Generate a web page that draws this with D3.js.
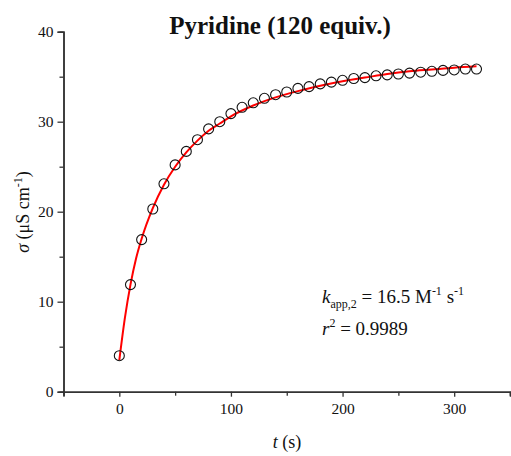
<!DOCTYPE html>
<html><head><meta charset="utf-8">
<script src="https://cdn.jsdelivr.net/npm/d3@7"></script>
<style>body{margin:0;background:#fff}svg{display:block}text{font-family:"Liberation Serif","DejaVu Serif",serif;fill:#111}</style>
</head><body><svg id="c" width="511" height="456"></svg>
<script>
const times = [0,10,20,30,40,50,60,70,80,90,100,110,120,130,140,150,160,170,180,190,200,210,220,230,240,250,260,270,280,290,300,310,320];
const sigma = [4.0,11.9,16.9,20.3,23.1,25.2,26.7,28.0,29.2,30.0,30.9,31.6,32.1,32.6,33.0,33.3,33.7,33.9,34.2,34.4,34.6,34.8,34.9,35.1,35.2,35.3,35.4,35.5,35.6,35.7,35.75,35.85,35.85];
const fitT = [0,5,10,15,20,30,40,50,60,70,80,90,100,120,140,160,180,200,220,240,260,280,300,320];
const fitY = [3.5,8.2,11.9,14.8,17.0,20.4,23.0,25.0,26.6,27.9,29.0,29.8,30.6,31.8,32.7,33.4,34.0,34.5,34.9,35.3,35.6,35.8,36.0,36.15];
const xMajor = [0,100,200,300];
const xMinor = [-50,50,150,250,350];
const yMajor = [0,10,20,30,40];
const yMinor = [5,15,25,35];

const svg = d3.select("#c");
const x = d3.scaleLinear().domain([-50,350]).range([63.5,510]);
const y = d3.scaleLinear().domain([0,40]).range([391.7,31.7]);
const axCol = "#333";

// axes
const gx = svg.append("g").attr("transform",`translate(0,${y(0)})`);
gx.append("g").call(d3.axisBottom(x).tickValues(xMinor).tickSize(4).tickFormat(""));
gx.append("g").call(d3.axisBottom(x).tickValues(xMajor).tickSize(5).tickPadding(6).tickFormat(d3.format("d")));
const gy = svg.append("g").attr("transform",`translate(${x(-50)},0)`);
gy.append("g").call(d3.axisLeft(y).tickValues(yMinor).tickSize(4).tickFormat(""));
gy.append("g").call(d3.axisLeft(y).tickValues(yMajor).tickSize(6).tickPadding(4).tickFormat(d3.format("d")));
svg.selectAll(".domain").attr("stroke",axCol).attr("stroke-width",1.5);
svg.selectAll(".tick line").attr("stroke",axCol).attr("stroke-width",1.3);
svg.selectAll(".tick text").attr("font-family","Liberation Serif, serif").attr("font-size",15.5).attr("fill","#111");

// fit line
svg.append("path").datum(fitT.map((t,i)=>[t,fitY[i]]))
  .attr("d",d3.line().x(d=>x(d[0])).y(d=>y(d[1])).curve(d3.curveMonotoneX))
  .attr("fill","none").attr("stroke","#ff0000").attr("stroke-width",2);

// points
svg.append("g").selectAll("circle").data(times.map((t,i)=>[t,sigma[i]])).join("circle")
  .attr("cx",d=>x(d[0])).attr("cy",d=>y(d[1])).attr("r",5)
  .attr("fill","none").attr("stroke","#111").attr("stroke-width",1.1);

// title
svg.append("text").attr("x",280).attr("y",34).attr("text-anchor","middle")
  .attr("font-size",25).attr("font-weight","bold").text("Pyridine (120 equiv.)");

// x label
const xl = svg.append("text").attr("x",287).attr("y",448).attr("text-anchor","middle").attr("font-size",18);
xl.append("tspan").attr("font-style","italic").text("t");
xl.append("tspan").text(" (s)");

// y label
const yl = svg.append("text").attr("transform","translate(29,212) rotate(-90)").attr("text-anchor","middle").attr("font-size",18);
yl.append("tspan").attr("font-style","italic").text("σ");
yl.append("tspan").text(" (μS cm");
yl.append("tspan").attr("dy",-7).attr("font-size",12).text("-1");
yl.append("tspan").attr("dy",7).text(")");

// annotation
const a1 = svg.append("text").attr("x",322).attr("y",303).attr("font-size",19);
a1.append("tspan").attr("font-style","italic").text("k");
a1.append("tspan").attr("dy",5).attr("font-size",12).text("app,2");
a1.append("tspan").attr("dy",-5).text(" = 16.5 M");
a1.append("tspan").attr("dy",-8).attr("font-size",12).text("-1");
a1.append("tspan").attr("dy",8).text(" s");
a1.append("tspan").attr("dy",-8).attr("font-size",12).text("-1");
const a2 = svg.append("text").attr("x",322).attr("y",335).attr("font-size",19);
a2.append("tspan").attr("font-style","italic").text("r");
a2.append("tspan").attr("dy",-8).attr("font-size",12).text("2");
a2.append("tspan").attr("dy",8).text(" = 0.9989");
</script></body></html>
